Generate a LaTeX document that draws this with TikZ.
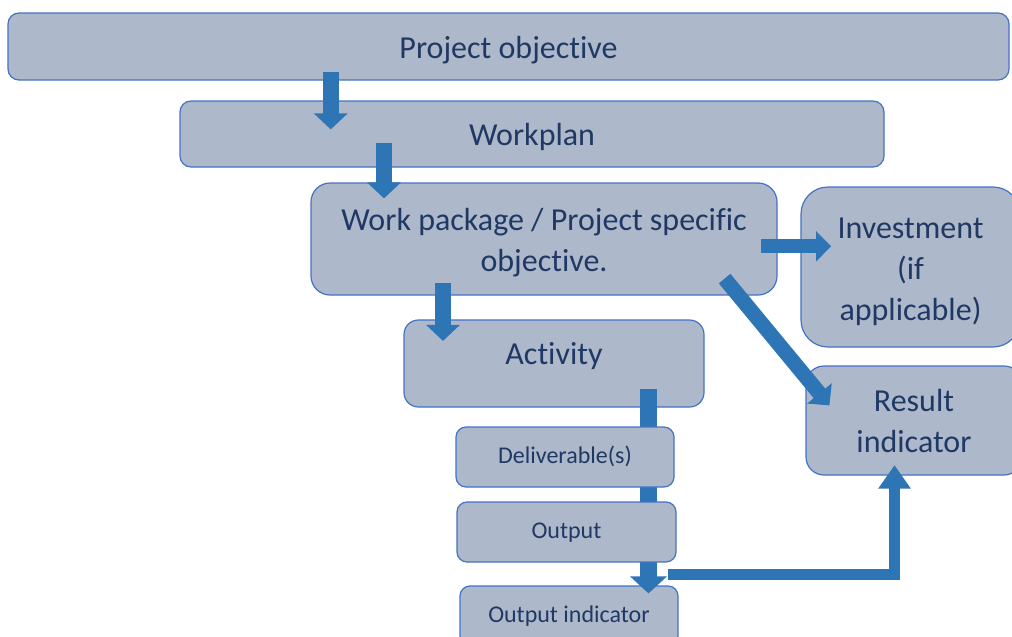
\documentclass[tikz,border=0pt]{standalone}
\usepackage{fontspec}
\setmainfont{Carlito}[Ligatures=NoCommon]
\usetikzlibrary{arrows.meta}
\definecolor{boxfill}{HTML}{ADB9CA}
\definecolor{boxline}{HTML}{4472C4}
\definecolor{boxtext}{HTML}{1F3864}
\definecolor{arrowblue}{HTML}{2E75B6}
\tikzstyle{stage} = [rectangle,
                     draw=boxline,
                     line width=1.2pt,
                     fill=boxfill,
                     text=boxtext,
                     align=center,
                     inner sep=0pt,
                     font=\fontsize{32}{41}\selectfont,
                     text height=25pt,
                     text depth=2pt]
\tikzstyle{stage1} = [stage,
                      font=\fontsize{24}{28}\selectfont,
                      text height=16pt,
                      text depth=3pt,
                      minimum width=218pt,
                      minimum height=60pt,
                      rounded corners=10pt]
\tikzstyle{blockarrow} = [draw=arrowblue,
                          line width=16pt,
                          -{Triangle[width=33pt,length=16pt]}]
\begin{document}
\begin{tikzpicture}[x=1pt,y=-1pt]
    \useasboundingbox (0,0) rectangle (1012,637);
    \clip (0,0) rectangle (1012,637);

    \node (Objective) [stage, minimum width=1001pt, minimum height=67pt, rounded corners=11pt] at (508.5,46.5) {Project objective};
    \node (Workplan) [stage, minimum width=704pt, minimum height=66pt, rounded corners=11pt] at (532,134) {Workplan};
    \node (Package) [stage, minimum width=466pt, minimum height=112pt, rounded corners=19pt, text height=66pt] at (544,239) {Work package / Project specific\\ objective.};
    \node (Investment) [stage, minimum width=219pt, minimum height=160pt, rounded corners=27pt, text height=108pt] at (910.5,267) {Investment\\ (if\\ applicable)};
    \node (Activity) [stage, minimum width=300pt, minimum height=87pt, rounded corners=14.5pt, text height=20pt, text depth=19pt] at (554,363.5) {Activity};
    \node (Result) [stage, minimum width=216pt, minimum height=109pt, rounded corners=18pt, text height=66pt] at (914,420.5) {Result\\ indicator};
    \node (OutputInd) [stage1] at (569,616) {Output indicator};

    \coordinate (a1) at ([xshift=-177.75pt,yshift=9pt]Objective.south);
    \coordinate (a2) at ([xshift=-148pt,yshift=25pt]Workplan.south);
    \coordinate (a3) at ([xshift=-101pt,yshift=13pt]Package.south);
    \coordinate (a4) at ([xshift=-16.5pt,yshift=-7.3pt]Package.east);
    \coordinate (a6) at ([xshift=94.5pt,yshift=19pt]Activity.south);

    \draw [blockarrow] (a1) -- ([yshift=-29pt]a1 |- Workplan.north);
    \draw [blockarrow] (a2) -- ([yshift=-16pt]a2 |- Package.north);
    \draw [blockarrow] (a3) -- ([yshift=-21.5pt]a3 |- Activity.north);
    \draw [blockarrow, line width=14pt, -{Triangle[width=29.5pt,length=15pt]}] (a4) -- ([xshift=30.7pt]a4 -| Investment.west);
    \draw [blockarrow, line width=15pt, -{Triangle[width=31pt,length=15.6pt]}] ([xshift=-53pt,yshift=17pt]Package.south east) -- ([xshift=24pt,yshift=-40pt]Result.north west);
    \draw [blockarrow, line width=17pt, -{Triangle[width=36pt,length=17pt]}] (a6) -- ([yshift=-8pt]a6 |- OutputInd.north);
    \draw [blockarrow, line width=11pt, -{Triangle[width=31pt,length=23.5pt]}] ([xshift=98.5pt,yshift=10.5pt]OutputInd.north) -| ([xshift=-19.5pt,yshift=10.5pt]Result.south);

    \node (Deliverable) [stage1] at (565,457) {Deliverable(s)};
    \node (Output) [stage1, minimum width=219pt] at (566.5,532) {Output};
\end{tikzpicture}
\end{document}
